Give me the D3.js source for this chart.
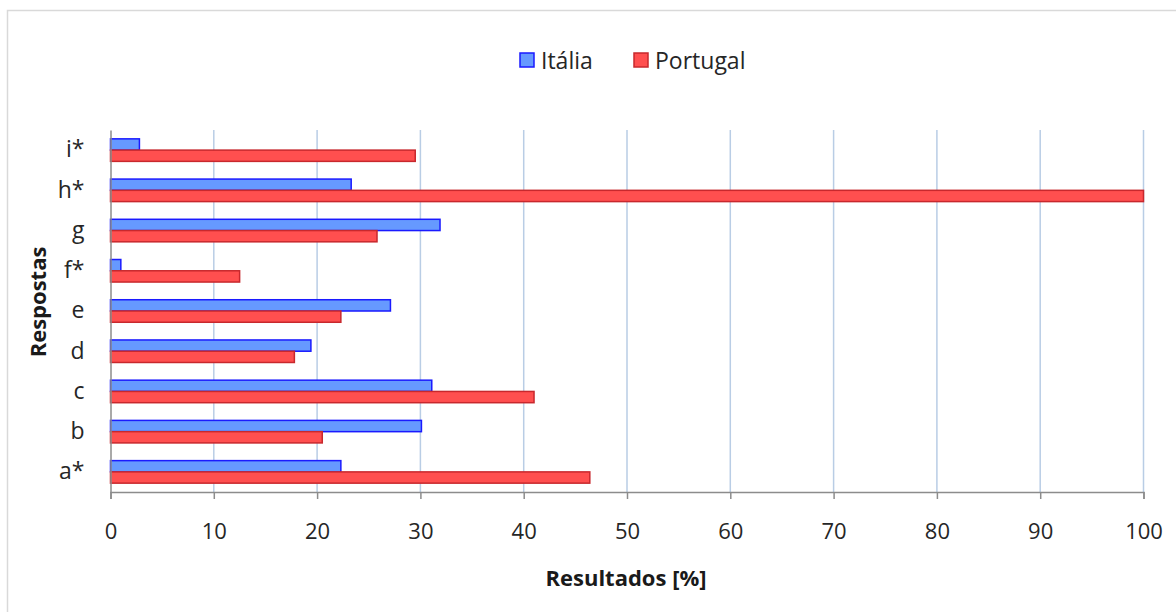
<!DOCTYPE html>
<html>
<head>
<meta charset="utf-8">
<script src="https://cdn.jsdelivr.net/npm/d3@7"></script>
<style>
  html, body { margin: 0; padding: 0; background: #fff; }
  svg { display: block; font-family: "Open Sans", "Noto Sans", sans-serif; }
</style>
</head>
<body>
<svg id="chart" width="1176" height="612"></svg>
<script>
// Response categories, top to bottom
const categories = ["i*", "h*", "g", "f*", "e", "d", "c", "b", "a*"];
// Percentages per country, same order as categories
const italia   = [2.8, 23.3, 31.9, 1.0, 27.1, 19.4, 31.1, 30.1, 22.3];
const portugal = [29.5, 100, 25.8, 12.5, 22.3, 17.8, 41.0, 20.5, 46.4];
const seriesNames = ["Itália", "Portugal"];
const xTicks = [0, 10, 20, 30, 40, 50, 60, 70, 80, 90, 100];

const fills   = ["#6699ff", "#ff4f4f"];
const strokes = ["#1a1aff", "#c8282d"];

const svg = d3.select("#chart");

// outer frame (top and left edges visible)
svg.append("rect")
  .attr("x", 7.5).attr("y", 10.5)
  .attr("width", 1200).attr("height", 700)
  .attr("fill", "none").attr("stroke", "#d9d9d9").attr("stroke-width", 1.5);

const plot = { left: 110.5, right: 1143.5, top: 130, bottom: 492 };

const x = d3.scaleLinear().domain([0, 100]).range([plot.left, plot.right]);
const y = d3.scaleBand().domain(categories).range([plot.top, plot.bottom])
  .paddingInner(0.44).paddingOuter(0.22);
const ySub = d3.scaleBand().domain(seriesNames).range([0, y.bandwidth()]);

// vertical gridlines
svg.append("g").selectAll("line")
  .data(xTicks.filter(d => d > 0))
  .join("line")
  .attr("x1", d => x(d)).attr("x2", d => x(d))
  .attr("y1", plot.top).attr("y2", plot.bottom)
  .attr("stroke", "#b9cde5").attr("stroke-width", 1.5);

// bars
const rows = categories.map((c, i) => ({ c, vals: [italia[i], portugal[i]] }));
const groups = svg.append("g").selectAll("g")
  .data(rows).join("g")
  .attr("transform", d => `translate(0,${y(d.c)})`);

groups.selectAll("rect")
  .data(d => d.vals.map((v, j) => ({ v, j })))
  .join("rect")
  .attr("x", x(0))
  .attr("y", d => ySub(seriesNames[d.j]))
  .attr("width", d => x(d.v) - x(0))
  .attr("height", ySub.bandwidth())
  .attr("fill", d => fills[d.j])
  .attr("stroke", d => strokes[d.j])
  .attr("stroke-width", 1.5);

// x axis
const xAxis = d3.axisBottom(x).tickValues(xTicks).tickSize(7).tickPadding(24);
const gx = svg.append("g")
  .attr("transform", `translate(0,${plot.bottom})`)
  .call(xAxis);
gx.select(".domain").attr("stroke", "#8c8c8c").attr("stroke-width", 1.5);
gx.selectAll(".tick line").attr("stroke", "#8c8c8c").attr("stroke-width", 1.5);
gx.selectAll(".tick text")
  .attr("fill", "#262626")
  .style("font-size", "22px")
  .style("font-family", "'Open Sans', sans-serif");

// y axis
const yAxis = d3.axisLeft(y).tickSize(0).tickPadding(26);
const gy = svg.append("g")
  .attr("transform", `translate(${plot.left},0)`)
  .call(yAxis);
gy.select(".domain").attr("stroke", "#8c8c8c").attr("stroke-width", 1.5);
gy.selectAll(".tick text")
  .attr("fill", "#262626")
  .style("font-size", "23px")
  .style("font-family", "'Open Sans', sans-serif");

// axis titles
svg.append("text")
  .attr("x", 626).attr("y", 586)
  .attr("text-anchor", "middle")
  .attr("fill", "#1a1a1a")
  .style("font-size", "22px").style("font-weight", "bold")
  .text("Resultados [%]");

svg.append("text")
  .attr("transform", "translate(46,302) rotate(-90)")
  .attr("text-anchor", "middle")
  .attr("fill", "#1a1a1a")
  .style("font-size", "22px").style("font-weight", "bold")
  .text("Respostas");

// legend
const legendX = [520, 634];
const legend = svg.append("g").selectAll("g")
  .data(seriesNames).join("g")
  .attr("transform", (d, i) => `translate(${legendX[i]},53)`);
legend.append("rect")
  .attr("width", 14).attr("height", 14)
  .attr("fill", (d, i) => fills[i])
  .attr("stroke", (d, i) => strokes[i])
  .attr("stroke-width", 1.5);
legend.append("text")
  .attr("x", 21).attr("y", 15.5)
  .attr("fill", "#262626")
  .style("font-size", "23px")
  .text(d => d);
</script>
</body>
</html>
